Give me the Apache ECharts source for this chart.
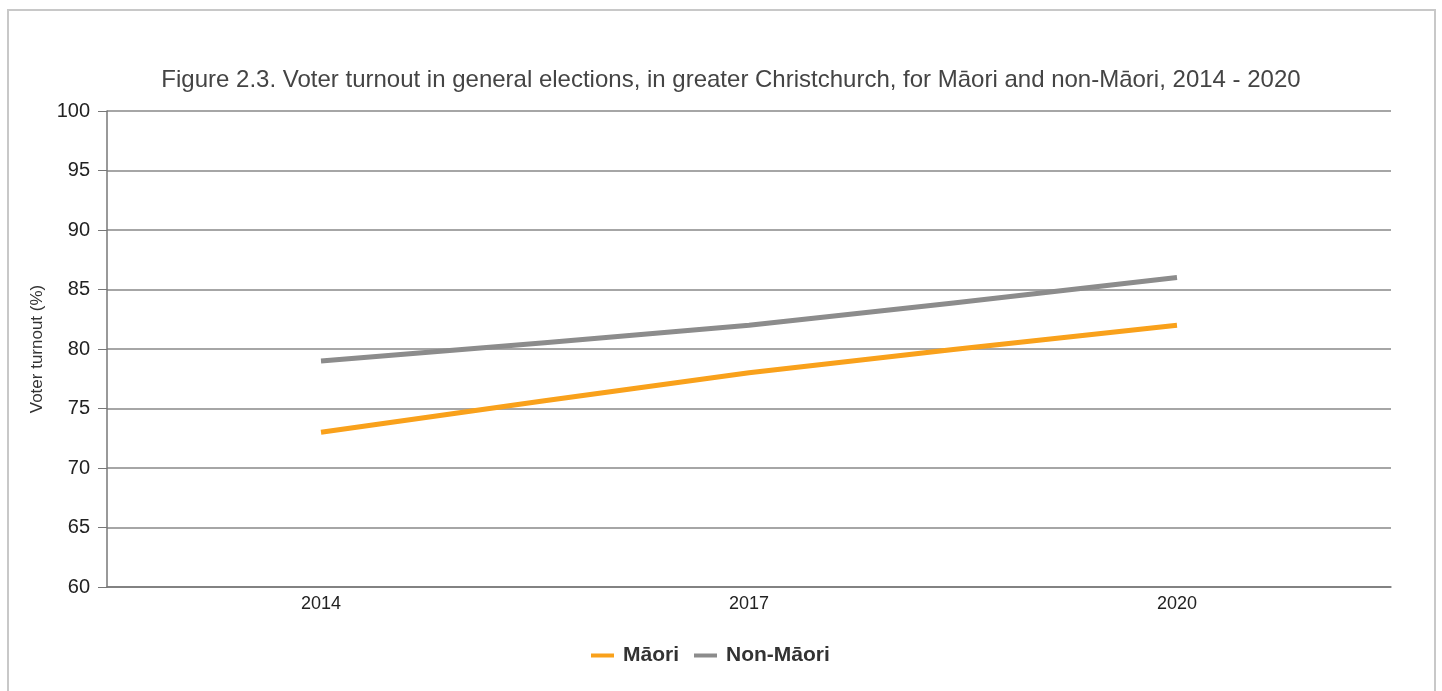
<!DOCTYPE html>
<html><head><meta charset="utf-8">
<script src="https://cdn.jsdelivr.net/npm/echarts@6/dist/echarts.min.js"></script>
<style>
html,body{margin:0;padding:0;background:#fff;}
#frame{position:absolute;left:7px;top:9px;width:1429px;height:700px;border:2px solid #c8c8c8;box-sizing:border-box;}
#chart{position:absolute;left:0;top:0;width:1442px;height:691px;}
</style></head>
<body>
<div id="frame"></div>
<div id="chart"></div>
<script>
const years = ['2014', '2017', '2020'];
const maori = [73, 78, 82];
const nonMaori = [79, 82, 86];
const yTicks = [60, 65, 70, 75, 80, 85, 90, 95, 100];

const chart = echarts.init(document.getElementById('chart'));
chart.setOption({
  animation: false,
  textStyle: { fontFamily: 'Liberation Sans, Arial, sans-serif' },
  title: {
    text: 'Figure 2.3. Voter turnout in general elections, in greater Christchurch, for Māori and non-Māori, 2014 - 2020',
    left: 726, textAlign: 'center', top: 63,
    textStyle: { fontSize: 24, fontWeight: 'normal', color: '#444', fontFamily: 'Liberation Sans, Arial, sans-serif' }
  },
  legend: {
    bottom: 20, left: 586, itemGap: 15, itemWidth: 23, itemHeight: 4,
    icon: 'rect',
    textStyle: { fontSize: 21, fontWeight: 'bold', color: '#333', padding: [0, 0, 0, 4], fontFamily: 'Liberation Sans, Arial, sans-serif' },
    data: ['Māori', 'Non-Māori']
  },
  grid: { left: 107, right: 51, top: 111, bottom: 104, containLabel: false },
  xAxis: {
    type: 'category', data: years, boundaryGap: true,
    axisLine: { lineStyle: { color: '#777', width: 1.5 } },
    axisTick: { alignWithLabel: true, length: 6, lineStyle: { color: '#777' } },
    axisLabel: { fontSize: 18, color: '#222', margin: 8 }
  },
  yAxis: {
    type: 'value', min: yTicks[0], max: yTicks[yTicks.length - 1], interval: 5,
    name: 'Voter turnout (%)', nameLocation: 'middle', nameGap: 56, nameRotate: 90,
    nameTextStyle: { fontSize: 17, color: '#333' },
    axisLine: { show: true, lineStyle: { color: '#777', width: 1.5 } },
    axisTick: { show: true, length: 9, lineStyle: { color: '#777' } },
    axisLabel: { fontSize: 20, color: '#222', margin: 17 },
    splitLine: { lineStyle: { color: '#888', width: 1.5 } }
  },
  series: [
    { name: 'Māori', type: 'line', data: maori, smooth: 0.2, showSymbol: false, symbol: 'none',
      lineStyle: { color: '#f9a11b', width: 5 }, itemStyle: { color: '#f9a11b' } },
    { name: 'Non-Māori', type: 'line', data: nonMaori, smooth: 0.2, showSymbol: false, symbol: 'none',
      lineStyle: { color: '#8c8c8c', width: 5 }, itemStyle: { color: '#8c8c8c' } }
  ]
});
</script>
</body></html>
